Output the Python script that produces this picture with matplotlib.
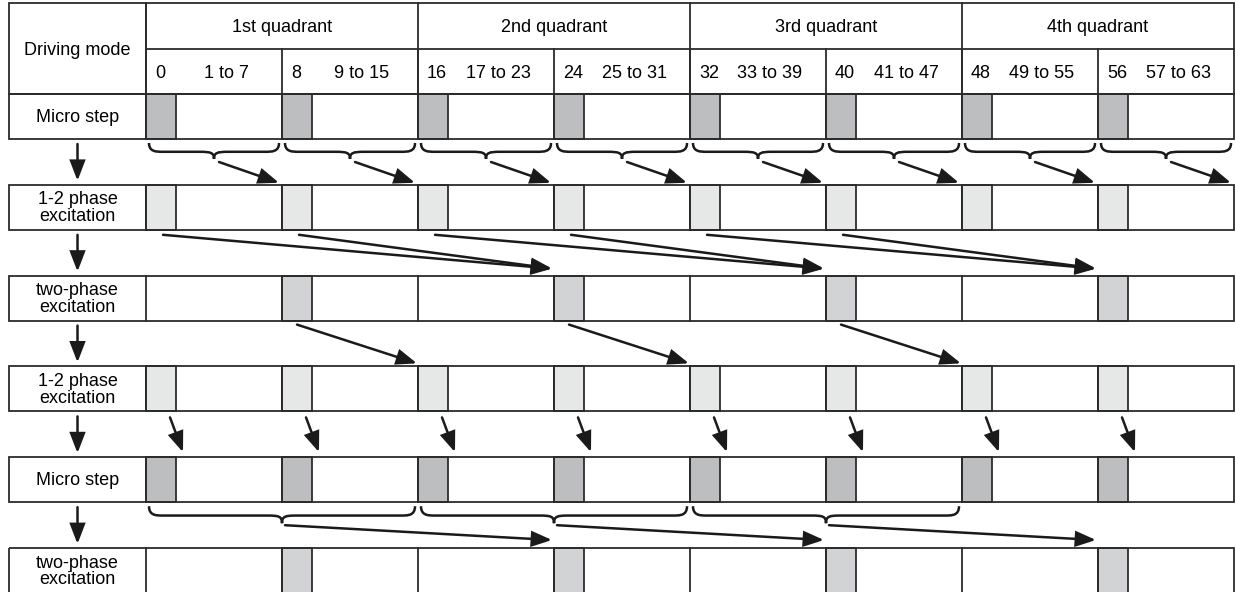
"""Step-mode transition diagram: driving mode rows (micro step / 1-2 phase / two-phase)
against the 64 micro-step positions split into four quadrants."""
import numpy as np
import matplotlib
matplotlib.use('Agg')
import matplotlib.pyplot as plt
from matplotlib.patches import Rectangle, FancyArrowPatch, PathPatch
from matplotlib.path import Path

plt.rcParams.update({'font.family': ['Liberation Sans', 'DejaVu Sans'], 'font.size': 13})

# ---- content -------------------------------------------------------------
quadrants = ['1st quadrant', '2nd quadrant', '3rd quadrant', '4th quadrant']
step_starts = ['0', '8', '16', '24', '32', '40', '48', '56']
step_ranges = ['1 to 7', '9 to 15', '17 to 23', '25 to 31',
               '33 to 39', '41 to 47', '49 to 55', '57 to 63']
row_labels = ['Micro step', '1-2 phase\nexcitation', 'two-phase\nexcitation',
              '1-2 phase\nexcitation', 'Micro step', 'two-phase\nexcitation']
row_kinds = ['micro', 'half', 'full', 'half', 'micro', 'full']
shaded = {'micro': [0, 1, 2, 3, 4, 5, 6, 7],
          'half': [0, 1, 2, 3, 4, 5, 6, 7],
          'full': [1, 3, 5, 7]}
# transitions between consecutive rows: (source group, target group)
t01_src = [0, 1, 2, 3, 4, 5, 6, 7]; t01_dst = [1, 2, 3, 4, 5, 6, 7, 8]   # braces, one group each
t12_src = [0, 1, 2, 3, 4, 5];       t12_dst = [3, 3, 5, 5, 7, 7]
t23_src = [1, 3, 5];                t23_dst = [2, 4, 6]
t34_src = [0, 1, 2, 3, 4, 5, 6, 7]  # short arrows into same group
t45_src = [0, 2, 4];                t45_dst = [3, 5, 7]                  # braces, two groups each

# ---- layout (pixel units) -----------------------------------------------
W, H = 1235, 592
X0, XL, GW, SW = 9, 146, 136, 30
Y0, YMID, YHB = 3, 49, 94
ROW_H, PITCH = 45, 90.8
c_micro, c_half, c_full = '#bdbebf', '#e6e7e7', '#d2d3d4'
fills = {'micro': c_micro, 'half': c_half, 'full': c_full}
edge = '#2b2b2b'
lw = 1.3

fig = plt.figure(figsize=(W / 100, H / 100), dpi=100)
ax = fig.add_axes([0, 0, 1, 1])
ax.set_xlim(0, W); ax.set_ylim(H, 0); ax.axis('off')

gx = lambda g: XL + g * GW
XR = gx(8)

# header
ax.add_patch(Rectangle((X0, Y0), XR - X0, YHB - Y0, fill=False, ec=edge, lw=lw))
ax.plot([XL, XL], [Y0, YHB], color=edge, lw=lw)
ax.plot([XL, XR], [YMID, YMID], color=edge, lw=lw)
for q, name in enumerate(quadrants):
    ax.plot([gx(2 * q)] * 2, [Y0, YHB], color=edge, lw=lw)
    ax.text(gx(2 * q) + GW, (Y0 + YMID) / 2 + 1, name, ha='center', va='center')
for g in range(8):
    ax.plot([gx(g)] * 2, [YMID, YHB], color=edge, lw=lw)
    ax.text(gx(g) + 9, (YMID + YHB) / 2 + 2, step_starts[g], ha='left', va='center')
    ax.text(gx(g) + 80, (YMID + YHB) / 2 + 2, step_ranges[g], ha='center', va='center')
ax.text((X0 + XL) / 2, (Y0 + YHB) / 2 + 2, 'Driving mode', ha='center', va='center')

# mode rows
row_top = [YHB + i * PITCH for i in range(len(row_labels))]
for i, (lab, kind) in enumerate(zip(row_labels, row_kinds)):
    top = row_top[i]
    bot = top + ROW_H if i < len(row_labels) - 1 else H + 40
    for g in shaded[kind]:
        ax.add_patch(Rectangle((gx(g), top), SW, bot - top, fc=fills[kind], ec=edge, lw=lw))
    ax.add_patch(Rectangle((X0, top), XR - X0, bot - top, fill=False, ec=edge, lw=lw))
    ax.plot([XL, XL], [top, bot], color=edge, lw=lw)
    for g in range(1, 8):
        ax.plot([gx(g)] * 2, [top, bot], color=edge, lw=lw)
    ax.text((X0 + XL) / 2, top + ROW_H / 2 + 1, lab, ha='center', va='center',
            linespacing=1.0)


def arrow(p, q):
    ax.add_patch(FancyArrowPatch(p, q, arrowstyle='-|>,head_length=12,head_width=4.6',
                                 mutation_scale=1, color='#1a1a1a', lw=1.8,
                                 shrinkA=0, shrinkB=0, joinstyle='miter'))


def brace(x0, x1, y0, depth):
    xm = (x0 + x1) / 2
    ym = y0 + depth * 0.55
    r = 14
    verts = [(x0, y0), (x0, ym), (x0 + r / 2, ym), (x0 + r, ym),
             (xm - r, ym), (xm - 3, ym), (xm, ym + 1), (xm, y0 + depth),
             (xm, ym + 1), (xm + 3, ym), (xm + r, ym),
             (x1 - r, ym), (x1 - r / 2, ym), (x1, ym), (x1, y0)]
    codes = [Path.MOVETO, Path.CURVE4, Path.CURVE4, Path.CURVE4,
             Path.LINETO, Path.CURVE4, Path.CURVE4, Path.CURVE4,
             Path.CURVE4, Path.CURVE4, Path.CURVE4,
             Path.LINETO, Path.CURVE4, Path.CURVE4, Path.CURVE4]
    ax.add_patch(PathPatch(Path(verts, codes), fill=False, ec='#1a1a1a', lw=1.8))
    return xm, y0 + depth


# left-column down arrows
for i in range(len(row_labels) - 1):
    arrow(((X0 + XL) / 2, row_top[i] + ROW_H + 5), ((X0 + XL) / 2, row_top[i + 1] - 4))

# micro step -> 1-2 phase
for s, d in zip(t01_src, t01_dst):
    tx, ty = brace(gx(s) + 3, gx(s + 1) - 3, row_top[0] + ROW_H + 4, 16)
    arrow((tx + 5, ty + 3), (gx(d) - 3, row_top[1] - 2))

# 1-2 phase -> two-phase
for s, d in zip(t12_src, t12_dst):
    arrow((gx(s) + 17, row_top[1] + ROW_H + 5), (gx(d) - 2, row_top[2] - 7))

# two-phase -> 1-2 phase
for s, d in zip(t23_src, t23_dst):
    arrow((gx(s) + 15, row_top[2] + ROW_H + 4), (gx(d) - 1, row_top[3] - 3))

# 1-2 phase -> micro step
for s in t34_src:
    arrow((gx(s) + 24, row_top[3] + ROW_H + 6), (gx(s) + 37, row_top[4] - 5))

# micro step -> two-phase
for s, d in zip(t45_src, t45_dst):
    tx, ty = brace(gx(s) + 3, gx(s + 2) - 3, row_top[4] + ROW_H + 4, 17)
    arrow((tx + 3, ty + 2), (gx(d) - 2, row_top[5] - 8))

fig.savefig('out.png', dpi=100)
